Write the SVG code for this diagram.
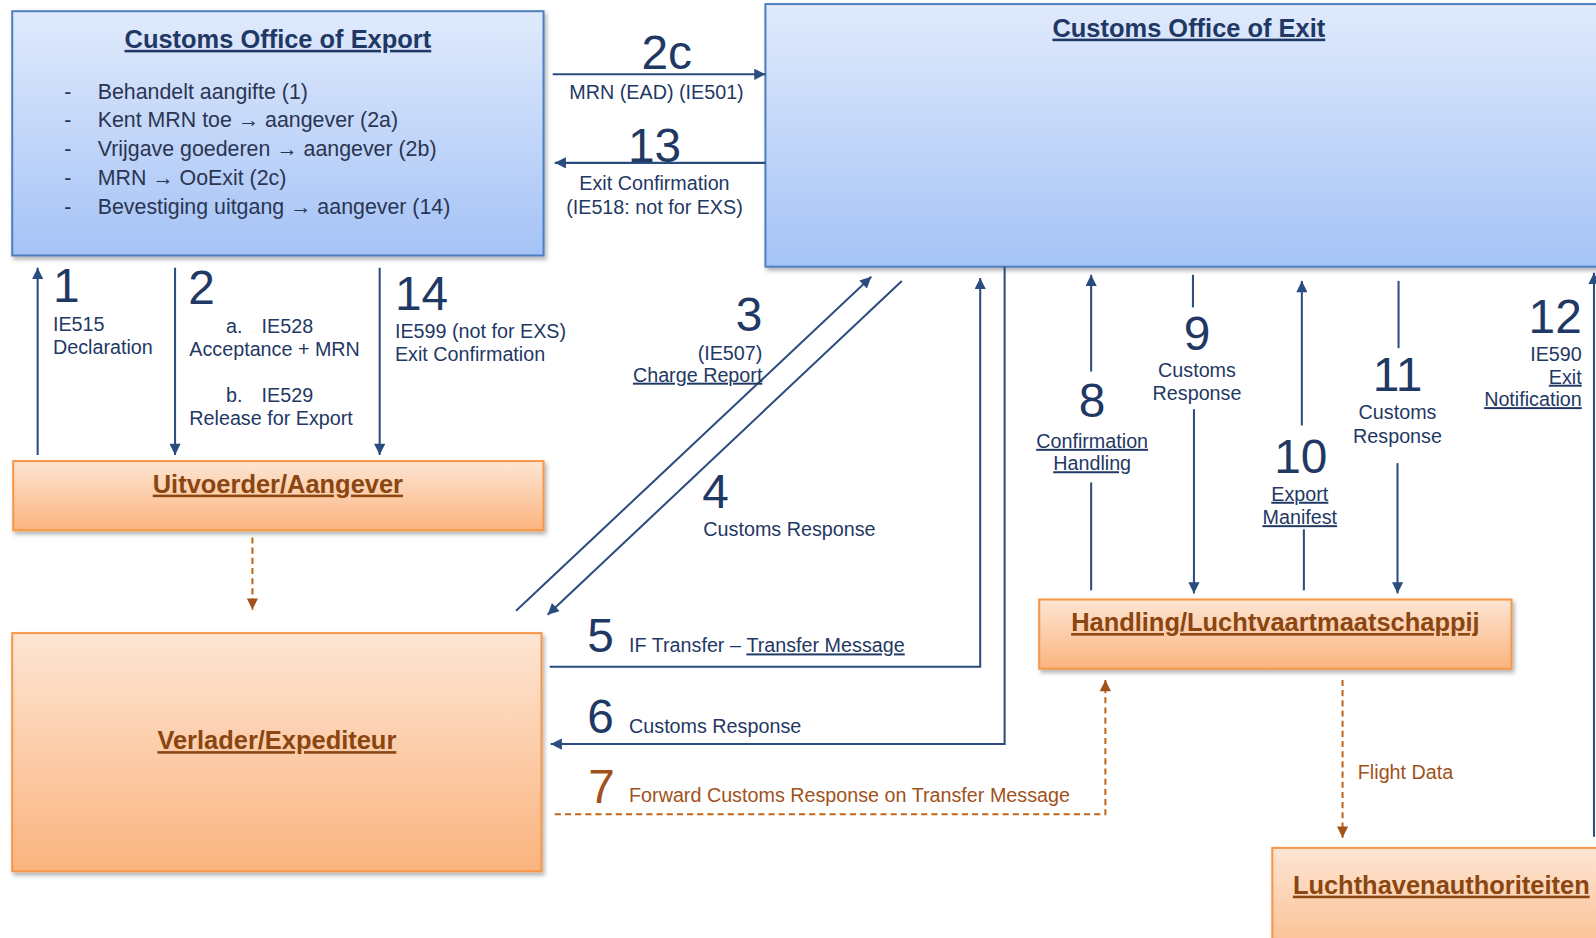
<svg xmlns="http://www.w3.org/2000/svg" width="1596" height="938" viewBox="0 0 1596 938">
<defs>
<linearGradient id="gb" x1="0" y1="0" x2="0" y2="1"><stop offset="0" stop-color="#e0eafc"/><stop offset="1" stop-color="#a5c3f6"/></linearGradient>
<linearGradient id="go" x1="0" y1="0" x2="0" y2="1"><stop offset="0" stop-color="#fde5d3"/><stop offset="1" stop-color="#fbb47f"/></linearGradient>
<filter id="sh" x="-5%" y="-5%" width="115%" height="120%"><feDropShadow dx="2" dy="3" stdDeviation="2" flood-color="#000" flood-opacity="0.3"/></filter>
<marker id="ab" viewBox="0 0 10 10" refX="10" refY="5" markerWidth="13" markerHeight="11" markerUnits="userSpaceOnUse" orient="auto"><path d="M0,0 L10,5 L0,10 z" fill="#2b4c7e"/></marker>
<marker id="ao" viewBox="0 0 10 10" refX="10" refY="5" markerWidth="13" markerHeight="11" markerUnits="userSpaceOnUse" orient="auto"><path d="M0,0 L10,5 L0,10 z" fill="#a0521a"/></marker>
<style>
text{font-family:"Liberation Sans",Arial,sans-serif}
.bbox{fill:url(#gb);stroke:#4f7fc0;stroke-width:2;filter:url(#sh)}
.obox{fill:url(#go);stroke:#f79646;stroke-width:2;filter:url(#sh)}
.tb{font-size:25px;font-weight:bold;fill:#1f3864;text-decoration:underline;text-anchor:middle}
.to{font-size:25px;font-weight:bold;fill:#8a4510;text-decoration:underline;text-anchor:middle}
.bul{font-size:21px;fill:#2a3552}
.num{font-size:47px;fill:#1f3864}
.numo{font-size:47px;fill:#a0521a}
.lb{font-size:19.4px;fill:#1f3864}
.lo{font-size:19.4px;fill:#a0521a}
.u{text-decoration:underline}
.m{text-anchor:middle}
.e{text-anchor:end}
.cb{fill:none;stroke:#2b4c7e;stroke-width:2}
.co{fill:none;stroke:#c0651a;stroke-width:2;stroke-dasharray:6,4}
</style>
</defs>
<rect width="1596" height="938" fill="#fff"/>
<g transform="scale(1.01786)">
<g id="export">
<rect class="bbox" x="12" y="11" width="522" height="240"/>
<text class="tb" x="273" y="47">Customs Office of Export</text>
<text class="bul" x="63" y="97">-</text><text class="bul" x="96" y="97">Behandelt aangifte (1)</text>
<text class="bul" x="63" y="125">-</text><text class="bul" x="96" y="125">Kent MRN toe → aangever (2a)</text>
<text class="bul" x="63" y="153">-</text><text class="bul" x="96" y="153">Vrijgave goederen → aangever (2b)</text>
<text class="bul" x="63" y="182">-</text><text class="bul" x="96" y="182">MRN → OoExit (2c)</text>
<text class="bul" x="63" y="210">-</text><text class="bul" x="96" y="210">Bevestiging uitgang → aangever (14)</text>
</g>

<g id="exit">
<rect class="bbox" x="752" y="4" width="880" height="258"/>
<text class="tb" x="1168" y="36">Customs Office of Exit</text>
</g>

<g id="uitvoerder">
<rect class="obox" x="13" y="453" width="521" height="68"/>
<text class="to" x="273" y="484">Uitvoerder/Aangever</text>
</g>

<g id="verlader">
<rect class="obox" x="12" y="622" width="520" height="234"/>
<text class="to" x="272" y="736">Verlader/Expediteur</text>
</g>

<g id="handling">
<rect class="obox" x="1021" y="589" width="464" height="68"/>
<text class="to" x="1253" y="620">Handling/Luchtvaartmaatschappij</text>
</g>

<g id="luchthaven">
<rect class="obox" x="1250" y="833" width="380" height="130"/>
<text class="to" x="1416" y="878">Luchthavenauthoriteiten</text>
</g>

<g id="connectors">
<line class="cb" x1="543" y1="73" x2="752" y2="73" marker-end="url(#ab)"/>
<line class="cb" x1="752" y1="160" x2="545" y2="160" marker-end="url(#ab)"/>
<line class="cb" x1="37" y1="447" x2="37" y2="263" marker-end="url(#ab)"/>
<line class="cb" x1="172" y1="263" x2="172" y2="447" marker-end="url(#ab)"/>
<line class="cb" x1="373" y1="263" x2="373" y2="447" marker-end="url(#ab)"/>
<line class="cb" x1="507" y1="600" x2="856" y2="272" marker-end="url(#ab)"/>
<line class="cb" x1="886" y1="276" x2="538" y2="604" marker-end="url(#ab)"/>
<path class="cb" d="M540,655 H963 V273" marker-end="url(#ab)"/>
<path class="cb" d="M987,262 V731 H541" marker-end="url(#ab)"/>
<path class="co" d="M545,800 H1086 V668" marker-end="url(#ao)"/>
<line class="co" x1="248" y1="528" x2="248" y2="599" marker-end="url(#ao)"/>
<line class="co" x1="1319" y1="668" x2="1319" y2="823" marker-end="url(#ao)"/>
<line class="cb" x1="1072" y1="580" x2="1072" y2="474"/>
<line class="cb" x1="1072" y1="365" x2="1072" y2="270" marker-end="url(#ab)"/>
<line class="cb" x1="1172" y1="270" x2="1172" y2="302"/>
<line class="cb" x1="1173" y1="402" x2="1173" y2="583" marker-end="url(#ab)"/>
<line class="cb" x1="1281" y1="580" x2="1281" y2="520"/>
<line class="cb" x1="1279" y1="418" x2="1279" y2="276" marker-end="url(#ab)"/>
<line class="cb" x1="1374" y1="276" x2="1374" y2="342"/>
<line class="cb" x1="1373" y1="455" x2="1373" y2="583" marker-end="url(#ab)"/>
<line class="cb" x1="1566" y1="822" x2="1566" y2="268" marker-end="url(#ab)"/>

<text class="num m" x="655" y="68">2c</text>
<text class="lb m" x="645" y="97">MRN (EAD) (IE501)</text>
<text class="num m" x="643" y="159">13</text>
<text class="lb m" x="643" y="187">Exit Confirmation</text>
<text class="lb m" x="643" y="210">(IE518: not for EXS)</text>

<text class="num" x="52" y="297">1</text>
<text class="lb" x="52" y="325">IE515</text>
<text class="lb" x="52" y="348">Declaration</text>

<text class="num" x="185" y="299">2</text>
<text class="lb" x="222" y="327">a.</text><text class="lb" x="257" y="327">IE528</text>
<text class="lb" x="186" y="350">Acceptance + MRN</text>
<text class="lb" x="222" y="395">b.</text><text class="lb" x="257" y="395">IE529</text>
<text class="lb" x="186" y="418">Release for Export</text>

<text class="num" x="388" y="305">14</text>
<text class="lb" x="388" y="332">IE599 (not for EXS)</text>
<text class="lb" x="388" y="355">Exit Confirmation</text>

<text class="num e" x="749" y="325">3</text>
<text class="lb e" x="749" y="354">(IE507)</text>
<text class="lb e u" x="749" y="375">Charge Report</text>

<text class="num" x="690" y="499">4</text>
<text class="lb" x="691" y="527">Customs Response</text>

<text class="num" x="577" y="641">5</text>
<text class="lb" x="618" y="641">IF Transfer – <tspan class="u">Transfer Message</tspan></text>
<text class="num" x="577" y="720">6</text>
<text class="lb" x="618" y="720">Customs Response</text>
<text class="numo" x="578" y="789">7</text>
<text class="lo" x="618" y="788">Forward Customs Response on Transfer Message</text>

<text class="num m" x="1073" y="410">8</text>
<text class="lb m u" x="1073" y="440">Confirmation</text>
<text class="lb m u" x="1073" y="462">Handling</text>
<text class="num m" x="1176" y="344">9</text>
<text class="lb m" x="1176" y="370">Customs</text>
<text class="lb m" x="1176" y="393">Response</text>
<text class="num m" x="1278" y="465">10</text>
<text class="lb m u" x="1277" y="492">Export</text>
<text class="lb m u" x="1277" y="515">Manifest</text>
<text class="num m" x="1373" y="384">11</text>
<text class="lb m" x="1373" y="412">Customs</text>
<text class="lb m" x="1373" y="435">Response</text>
<text class="num e" x="1554" y="327">12</text>
<text class="lb e" x="1554" y="355">IE590</text>
<text class="lb e u" x="1554" y="377">Exit</text>
<text class="lb e u" x="1554" y="399">Notification</text>

<text class="lo" x="1334" y="765">Flight Data</text>
</g>
</g>
</svg>
